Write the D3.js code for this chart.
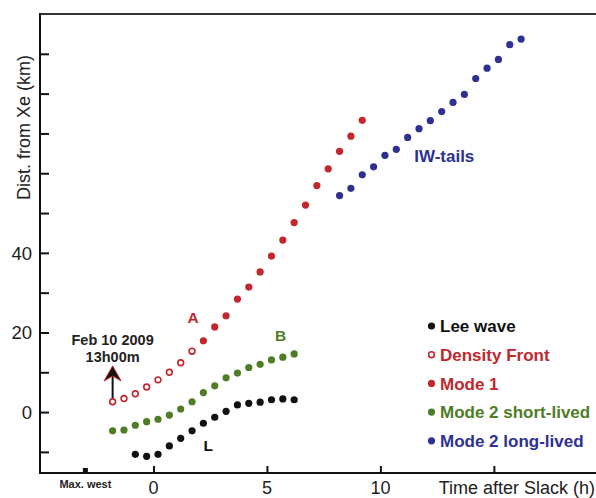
<!DOCTYPE html>
<html>
<head>
<meta charset="utf-8">
<script src="https://cdn.jsdelivr.net/npm/d3@7"></script>
<style>
    body { margin: 0; background: white; }
    svg { display: block; font-family: "Liberation Sans", Arial, sans-serif; }
</style>
</head>
<body>
<div id="chart"></div>
<script>

// time after slack (h) and distance from Xe (km)
let lee_x = [-0.8, -0.3, 0.2, 0.7, 1.2, 1.7, 2.2, 2.7, 3.2, 3.7, 4.2, 4.7, 5.2, 5.7, 6.2];
let lee_y = [-10.6, -11.1, -10.6, -8.5, -6.6, -4.7, -2.8, -1.3, 0.2, 1.8, 2.2, 2.5, 3.1, 3.3, 3.1];

let front_x = [-1.8, -1.3, -0.8, -0.3, 0.2, 0.7, 1.2, 1.7];
let front_y = [2.6, 3.4, 4.6, 6.3, 8.1, 10.0, 12.4, 15.3];

let mode1_x = [2.2, 2.7, 3.2, 3.7, 4.2, 4.7, 5.2, 5.7, 6.2, 6.7, 7.2, 7.7, 8.2, 8.7, 9.2];
let mode1_y = [17.9, 21.4, 24.2, 28.4, 31.4, 35.2, 39.2, 43.2, 47.6, 52.0, 56.9, 61.1, 65.5, 69.3, 73.3];

let short_x = [-1.8, -1.3, -0.8, -0.3, 0.2, 0.7, 1.2, 1.7, 2.2, 2.7, 3.2, 3.7, 4.2, 4.7, 5.2, 5.7, 6.2];
let short_y = [-4.7, -4.5, -3.3, -2.4, -1.8, -0.75, 0.75, 2.6, 4.9, 6.6, 8.6, 9.8, 11.2, 12.0, 13.1, 13.8, 14.6];

let long_x = [8.2, 8.7, 9.2, 9.7, 10.2, 10.7, 11.2, 11.7, 12.2, 12.7, 13.2, 13.7, 14.2, 14.7, 15.2, 15.7, 16.2];
let long_y = [54.4, 56.2, 59.6, 61.6, 64.5, 66.0, 69.0, 71.2, 73.2, 75.5, 77.8, 79.8, 83.8, 86.4, 88.6, 92.3, 93.7];

let x_ticks = [0, 5, 10, 15];
let x_labels = [0, 5, 10];
let y_ticks = [-10, 0, 10, 20, 30, 40, 50, 60, 70, 80, 90];
let y_labels = [0, 20, 40];
let max_west = -3;

let series_names = ["Lee wave", "Density Front", "Mode 1", "Mode 2 short-lived", "Mode 2 long-lived"];

let color_map = {
    "Lee wave": "#111111",
    "Density Front": "#c1272d",
    "Mode 1": "#c1272d",
    "Mode 2 short-lived": "#4e7d25",
    "Mode 2 long-lived": "#2e3192"
};

let chart_width = 596;
let chart_height = 498;

let xScale = d3.scaleLinear().domain([-5, 19.5]).range([40, 596]);
let yScale = d3.scaleLinear().domain([-15.3, 100]).range([473, 14]);

let svg = d3.select("#chart")
    .append("svg")
    .attr("width", chart_width)
    .attr("height", chart_height);

// frame: top and bottom lines run off the right edge, left axis closes it
svg.append("line")
    .attr("x1", xScale(-5)).attr("x2", chart_width)
    .attr("y1", yScale(100)).attr("y2", yScale(100))
    .attr("stroke", "#333").attr("stroke-width", 2);

svg.append("line")
    .attr("x1", xScale(-5)).attr("x2", chart_width)
    .attr("y1", yScale(-15.3)).attr("y2", yScale(-15.3))
    .attr("stroke", "#111").attr("stroke-width", 2);

svg.append("line")
    .attr("x1", xScale(-5)).attr("x2", xScale(-5))
    .attr("y1", yScale(100) - 1).attr("y2", yScale(-15.3) + 1)
    .attr("stroke", "#111").attr("stroke-width", 2);

let y_axis = svg.append("g")
    .attr("transform", "translate(" + xScale(-5) + ",0)")
    .call(d3.axisRight(yScale).tickValues(y_ticks).tickSize(9).tickFormat(""));
y_axis.select(".domain").remove();
y_axis.selectAll(".tick line").attr("stroke", "#111").attr("stroke-width", 2);

let x_axis = svg.append("g")
    .attr("transform", "translate(0," + yScale(-15.3) + ")")
    .call(d3.axisTop(xScale).tickValues(x_ticks).tickSize(7).tickFormat(""));
x_axis.select(".domain").remove();
x_axis.selectAll(".tick line").attr("stroke", "#111").attr("stroke-width", 2);

svg.selectAll(".ylab")
    .data(y_labels)
    .enter()
    .append("text")
    .attr("class", "ylab")
    .attr("x", 32)
    .attr("y", function(d) { return yScale(d); })
    .attr("dy", ".36em")
    .attr("text-anchor", "end")
    .style("font-size", "18.5px")
    .attr("fill", "#222")
    .text(function(d) { return d; });

svg.selectAll(".xlab")
    .data(x_labels)
    .enter()
    .append("text")
    .attr("class", "xlab")
    .attr("x", function(d) { return xScale(d); })
    .attr("y", 493.5)
    .attr("text-anchor", "middle")
    .style("font-size", "18px")
    .attr("fill", "#222")
    .text(function(d) { return d; });

svg.append("text")
    .attr("x", 595)
    .attr("y", 493.5)
    .attr("text-anchor", "end")
    .style("font-size", "18px")
    .attr("fill", "#222")
    .text("Time after Slack (h)");

svg.append("text")
    .attr("transform", "translate(29.5," + 127.5 + ") rotate(-90)")
    .attr("text-anchor", "middle")
    .style("font-size", "18px")
    .attr("fill", "#222")
    .text("Dist. from Xe (km)");

// max. west marker
svg.append("rect")
    .attr("x", xScale(max_west) - 2.5)
    .attr("y", yScale(-15.3) - 5)
    .attr("width", 5)
    .attr("height", 5)
    .attr("fill", "#111");

svg.append("text")
    .attr("x", xScale(max_west))
    .attr("y", 488)
    .attr("text-anchor", "middle")
    .style("font-size", "11px")
    .style("font-weight", "bold")
    .attr("fill", "#222")
    .text("Max. west");

// arrow at start of density front
let arrow_x = xScale(front_x[0]);
svg.append("line")
    .attr("x1", arrow_x).attr("x2", arrow_x)
    .attr("y1", yScale(front_y[0]) - 3)
    .attr("y2", yScale(11))
    .attr("stroke", "#111").attr("stroke-width", 2);

let tip = yScale(11.6);
svg.append("path")
    .attr("d", "M" + arrow_x + "," + tip +
        " L" + (arrow_x + 8.5) + "," + (tip + 15) +
        " L" + arrow_x + "," + (tip + 10) +
        " L" + (arrow_x - 8.5) + "," + (tip + 15) + " Z")
    .attr("fill", "#111")
    .attr("stroke", "#c1272d")
    .attr("stroke-width", 1)
    .attr("stroke-linejoin", "miter");

svg.append("text")
    .attr("x", arrow_x)
    .attr("y", 344.5)
    .attr("text-anchor", "middle")
    .style("font-size", "14.5px")
    .style("font-weight", "bold")
    .attr("fill", "#222")
    .text("Feb 10 2009");

svg.append("text")
    .attr("x", arrow_x)
    .attr("y", 361.5)
    .attr("text-anchor", "middle")
    .style("font-size", "14.5px")
    .style("font-weight", "bold")
    .attr("fill", "#222")
    .text("13h00m");

// series points
function pairs(xs, ys, name) {
    let out = [];
    for (let i = 0; i < xs.length; i++) {
        out.push({"x": xs[i], "y": ys[i], "name": name});
    }
    return out;
}

let filled = []
    .concat(pairs(lee_x, lee_y, "Lee wave"))
    .concat(pairs(mode1_x, mode1_y, "Mode 1"))
    .concat(pairs(short_x, short_y, "Mode 2 short-lived"))
    .concat(pairs(long_x, long_y, "Mode 2 long-lived"));

svg.selectAll(".dot")
    .data(filled)
    .enter()
    .append("circle")
    .attr("class", "dot")
    .attr("cx", function(d) { return xScale(d["x"]); })
    .attr("cy", function(d) { return yScale(d["y"]); })
    .attr("r", 3.6)
    .attr("fill", function(d) { return color_map[d["name"]]; });

svg.selectAll(".open")
    .data(pairs(front_x, front_y, "Density Front"))
    .enter()
    .append("circle")
    .attr("class", "open")
    .attr("cx", function(d) { return xScale(d["x"]); })
    .attr("cy", function(d) { return yScale(d["y"]); })
    .attr("r", 2.9)
    .attr("fill", "white")
    .attr("stroke", function(d) { return color_map[d["name"]]; })
    .attr("stroke-width", 1.6);

// series labels in the plot
let tags = [
    {"text": "A", "x": 1.75, "y": 23.7, "color": color_map["Mode 1"], "size": 15.5},
    {"text": "B", "x": 5.6, "y": 19.3, "color": color_map["Mode 2 short-lived"], "size": 15.5},
    {"text": "L", "x": 2.41, "y": -8.5, "color": color_map["Lee wave"], "size": 15.5},
    {"text": "IW-tails", "x": 11.49, "y": 64.2, "color": color_map["Mode 2 long-lived"], "size": 17}
];

svg.selectAll(".tag")
    .data(tags)
    .enter()
    .append("text")
    .attr("class", "tag")
    .attr("x", function(d) { return xScale(d["x"]); })
    .attr("y", function(d) { return yScale(d["y"]); })
    .attr("dy", ".35em")
    .attr("text-anchor", function(d) { return d["text"] == "IW-tails" ? "start" : "middle"; })
    .style("font-size", function(d) { return d["size"] + "px"; })
    .style("font-weight", "bold")
    .attr("fill", function(d) { return d["color"]; })
    .text(function(d) { return d["text"]; });

// legend
let legend = svg.selectAll(".legend")
    .data(series_names)
    .enter()
    .append("g")
    .attr("class", "legend")
    .attr("transform", function(d, i) { return "translate(431.5," + (326 + i * 28.7) + ")"; });

legend.append("circle")
    .attr("cx", 0)
    .attr("cy", 0)
    .attr("r", function(d) { return d == "Density Front" ? 2.9 : 3.6; })
    .attr("fill", function(d) { return d == "Density Front" ? "white" : color_map[d]; })
    .attr("stroke", function(d) { return d == "Density Front" ? color_map[d] : "none"; })
    .attr("stroke-width", 1.6);

legend.append("text")
    .attr("x", 8.5)
    .attr("y", 0)
    .attr("dy", ".36em")
    .style("font-size", "17px")
    .style("font-weight", "bold")
    .attr("fill", function(d) { return color_map[d]; })
    .text(function(d) { return d; });

</script>
</body>
</html>
